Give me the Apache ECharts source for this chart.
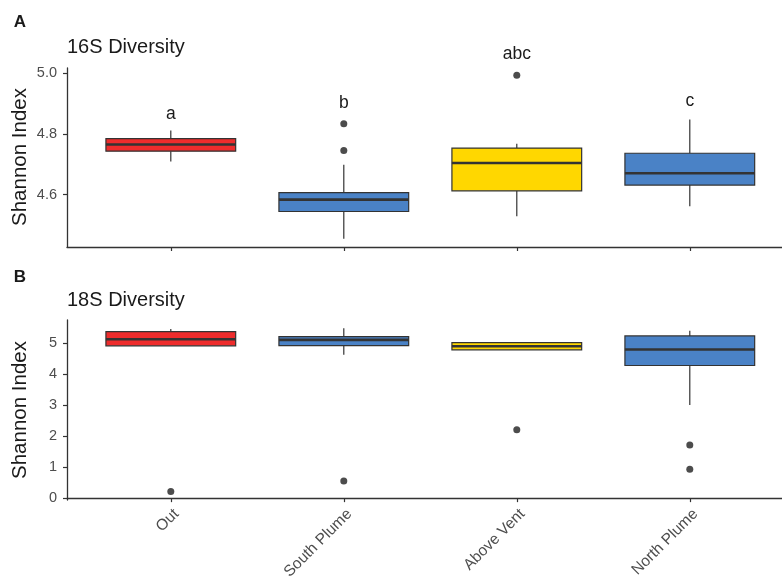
<!DOCTYPE html>
<html>
<head>
<meta charset="utf-8">
<script src="https://cdn.jsdelivr.net/npm/echarts@6/dist/echarts.min.js"></script>
<style>
  html, body { margin: 0; padding: 0; background: #ffffff; }
  #chart { width: 782px; height: 577px; }
</style>
</head>
<body>
<div id="chart"></div>
<script>
// Sampling sites along the transect
const categories = ['Out', 'South Plume', 'Above Vent', 'North Plume'];
const fills = ['#EE2C2C', '#4A82C6', '#FFD700', '#4A82C6'];

// Box statistics per site: [lower whisker, Q1, median, Q3, upper whisker]
const stats16S = [
  [4.709, 4.743, 4.765, 4.784, 4.811],
  [4.454, 4.544, 4.583, 4.606, 4.698],
  [4.528, 4.612, 4.704, 4.753, 4.767],
  [4.561, 4.631, 4.670, 4.736, 4.847]
];
const outliers16S = [['South Plume', 4.833], ['South Plume', 4.745], ['Above Vent', 4.993]];
const letters16S = ['a', 'b', 'abc', 'c'];
const letterY16S = [4.864, 4.901, 5.061, 4.907];
const ticks16S = [4.6, 4.8, 5.0];

const stats18S = [
  [4.915, 4.915, 5.130, 5.374, 5.461],
  [4.626, 4.925, 5.108, 5.214, 5.483],
  [4.786, 4.786, 4.905, 5.021, 5.040],
  [3.010, 4.282, 4.796, 5.236, 5.407]
];
const outliers18S = [['Out', 0.215], ['South Plume', 0.556], ['Above Vent', 2.207], ['North Plume', 1.712], ['North Plume', 0.932]];
const ticks18S = [0, 1, 2, 3, 4, 5];

const catPos = [1, 2, 3, 4];
const INK = '#333333';
const TICK_TXT = '#4D4D4D';
const FONT = '"Liberation Sans", Arial, sans-serif';

function boxData(stats) {
  return stats.map((s, i) => [catPos[i]].concat(s));
}
function pointData(list) {
  return list.map(p => [categories.indexOf(p[0]) + 1, p[1]]);
}

function renderBox(params, api) {
  const x = api.value(0);
  const lo = api.coord([x, api.value(1)]);
  const q1 = api.coord([x, api.value(2)]);
  const md = api.coord([x, api.value(3)]);
  const q3 = api.coord([x, api.value(4)]);
  const hi = api.coord([x, api.value(5)]);
  const w = api.size([0.75, 0])[0];
  const cx = lo[0];
  return {
    type: 'group',
    children: [
      { type: 'line', shape: { x1: cx, y1: hi[1], x2: cx, y2: q3[1] }, style: { stroke: INK, lineWidth: 1.2 } },
      { type: 'line', shape: { x1: cx, y1: q1[1], x2: cx, y2: lo[1] }, style: { stroke: INK, lineWidth: 1.2 } },
      { type: 'rect', shape: { x: cx - w / 2, y: q3[1], width: w, height: q1[1] - q3[1] },
        style: { fill: fills[params.dataIndex], stroke: INK, lineWidth: 1.2 } },
      { type: 'line', shape: { x1: cx - w / 2, y1: md[1], x2: cx + w / 2, y2: md[1] }, style: { stroke: INK, lineWidth: 2.6 } }
    ]
  };
}

function renderLetter(params, api) {
  const p = api.coord([api.value(0), api.value(1)]);
  return {
    type: 'text',
    x: p[0], y: p[1],
    style: {
      text: letters16S[params.dataIndex],
      fill: '#1A1A1A', font: '17.5px ' + FONT,
      align: 'center', verticalAlign: 'middle'
    }
  };
}

// Discrete positions 1..4 with 0.6 padding on the left; the right edge runs to the page border
function xAxisCfg(gridIndex, showLabels) {
  return {
    type: 'value', gridIndex: gridIndex, min: 0.4, max: 4.533,
    axisLine: { show: true, lineStyle: { color: INK, width: 1.3 } },
    axisTick: { show: true, customValues: catPos, length: 4, lineStyle: { color: INK, width: 1.2 } },
    axisLabel: {
      show: showLabels, customValues: catPos,
      formatter: v => categories[Math.round(v) - 1],
      rotate: 45, verticalAlign: 'top', fontSize: 15.5, fontFamily: FONT, color: TICK_TXT, margin: 6
    },
    splitLine: { show: false }
  };
}

function yAxisCfg(gridIndex, min, max, ticks, fmt) {
  return {
    type: 'value', gridIndex: gridIndex, min: min, max: max,
    axisLine: { show: true, lineStyle: { color: INK, width: 1.3 } },
    axisTick: { show: true, customValues: ticks, length: 4, lineStyle: { color: INK, width: 1.2 } },
    axisLabel: { customValues: ticks, formatter: fmt, fontSize: 14.5, fontFamily: FONT, color: TICK_TXT, margin: 10 },
    splitLine: { show: false }
  };
}

const chart = echarts.init(document.getElementById('chart'), null, { renderer: 'canvas' });

const headings = [
  { x: 20, y: 22, text: 'A', font: 'bold 17px ' + FONT, align: 'center' },
  { x: 20, y: 277, text: 'B', font: 'bold 17px ' + FONT, align: 'center' },
  { x: 67, y: 47, text: '16S Diversity', font: '20px ' + FONT, align: 'left' },
  { x: 67, y: 300, text: '18S Diversity', font: '20px ' + FONT, align: 'left' }
];

chart.setOption({
  backgroundColor: '#ffffff',
  animation: false,
  grid: [
    { left: 67, top: 68, right: 0, height: 179, outerBoundsMode: 'none' },
    { left: 67, top: 320, right: 0, height: 180, outerBoundsMode: 'none' }
  ],
  xAxis: [xAxisCfg(0, false), xAxisCfg(1, true)],
  yAxis: [
    yAxisCfg(0, 4.427, 5.017, ticks16S, v => v.toFixed(1)),
    yAxisCfg(1, -0.06, 5.75, ticks18S, v => String(Math.round(v)))
  ],
  graphic: headings.map(h => ({
    type: 'text', x: h.x, y: h.y,
    style: { text: h.text, font: h.font, fill: '#1A1A1A', align: h.align, verticalAlign: 'middle' }
  })).concat([157, 410].map(cy => ({
    type: 'text', x: 20, y: cy, rotation: Math.PI / 2,
    style: { text: 'Shannon Index', font: '20.5px ' + FONT, fill: '#1A1A1A', align: 'center', verticalAlign: 'middle' }
  }))),
  series: [
    { type: 'custom', xAxisIndex: 0, yAxisIndex: 0, data: boxData(stats16S), renderItem: renderBox, clip: false },
    { type: 'scatter', xAxisIndex: 0, yAxisIndex: 0, data: pointData(outliers16S), symbolSize: 7, itemStyle: { color: '#1F1F1F' } },
    { type: 'custom', xAxisIndex: 0, yAxisIndex: 0, data: letterY16S.map((v, i) => [catPos[i], v]), renderItem: renderLetter, clip: false },
    { type: 'custom', xAxisIndex: 1, yAxisIndex: 1, data: boxData(stats18S), renderItem: renderBox, clip: false },
    { type: 'scatter', xAxisIndex: 1, yAxisIndex: 1, data: pointData(outliers18S), symbolSize: 7, itemStyle: { color: '#1F1F1F' } }
  ]
});
</script>
</body>
</html>
